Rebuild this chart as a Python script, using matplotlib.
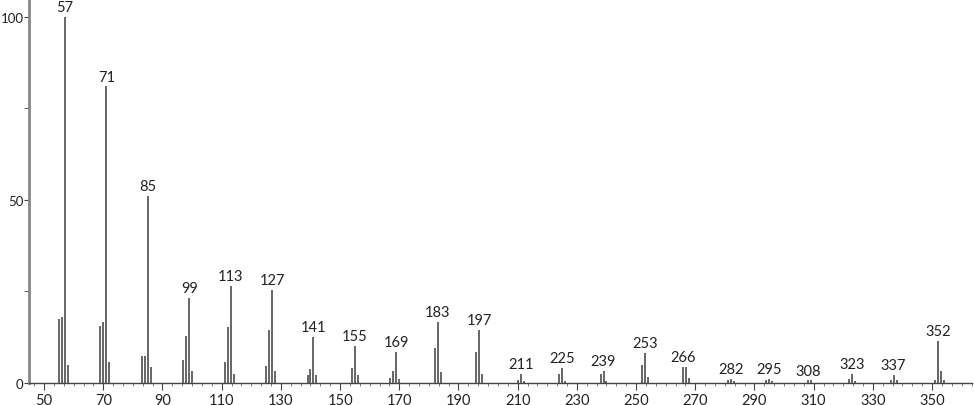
import matplotlib
matplotlib.use("Agg")
import matplotlib.pyplot as plt
from matplotlib.ticker import MultipleLocator

# m/z and relative intensity
mz = [55, 56, 57, 58,
      69, 70, 71, 72,
      83, 84, 85, 86,
      97, 98, 99, 100,
      111, 112, 113, 114,
      125, 126, 127, 128,
      139, 140, 141, 142,
      154, 155, 156,
      167, 168, 169, 170,
      182, 183, 184,
      196, 197, 198,
      210, 211, 212,
      224, 225, 226,
      238, 239, 240,
      252, 253, 254,
      266, 267, 268,
      281, 282, 283,
      294, 295, 296,
      308, 309,
      322, 323, 324,
      336, 337, 338,
      351, 352, 353, 354]
intensity = [17.5, 18.0, 100.0, 5.0,
             15.6, 16.7, 81.0, 5.8,
             7.5, 7.5, 51.0, 4.4,
             6.3, 12.8, 23.2, 3.3,
             5.7, 15.3, 26.5, 2.5,
             4.7, 14.5, 25.4, 3.3,
             2.2, 3.8, 12.6, 2.1,
             4.1, 10.1, 2.2,
             1.4, 3.2, 8.5, 1.1,
             9.6, 16.7, 3.0,
             8.5, 14.5, 2.4,
             0.8, 2.4, 0.6,
             2.5, 4.0, 0.6,
             2.5, 3.3, 0.6,
             4.9, 8.2, 1.6,
             4.4, 4.4, 1.4,
             0.7, 1.1, 0.5,
             0.7, 1.1, 0.5,
             0.7, 0.8,
             1.0, 2.4, 0.6,
             0.7, 2.3, 0.7,
             0.7, 11.5, 3.3, 0.8]
labeled = [57, 71, 85, 99, 113, 127, 141, 155, 169, 183, 197, 211,
           225, 239, 253, 266, 282, 295, 308, 323, 337, 352]

plt.rcParams['font.family'] = ['Lato', 'DejaVu Sans']

fig = plt.figure(figsize=(9.74, 4.06), dpi=100)
ax = fig.add_axes([29 / 974, 22 / 406, (972 - 29) / 974, 384 / 406])

ax.vlines(mz, 0, intensity, colors='#5a5a5a', linewidth=1.3)

peak = dict(zip(mz, intensity))
for m in labeled:
    h = max(peak.get(m, 0), peak.get(m + 1, 0) if m == 266 else 0)
    ax.text(m, h + 0.8, str(m), ha='center', va='bottom',
            fontsize=10.5, color='#222222')

ax.set_xlim(44.9, 363.5)
ax.set_ylim(0, 104.9)
ax.set_xticks(range(50, 351, 20))
ax.xaxis.set_minor_locator(MultipleLocator(20 / 6))
ax.set_yticks([0, 50, 100])
ax.yaxis.set_minor_locator(MultipleLocator(25))

for s in ['top', 'right']:
    ax.spines[s].set_visible(False)
ax.spines['left'].set_color('#888888')
ax.spines['left'].set_linewidth(2)
ax.spines['bottom'].set_color('#444444')
ax.spines['bottom'].set_linewidth(1)

ax.tick_params(axis='x', which='major', labelsize=10.5, labelcolor='#222222',
               color='#444444', length=5, width=0.8, pad=2)
ax.tick_params(axis='y', which='major', labelsize=9.5, labelcolor='#222222',
               color='#444444', length=3.5, width=0.8, pad=0.5)
ax.tick_params(axis='x', which='minor', length=2.5, width=0.6, color='#666666')
ax.tick_params(axis='y', which='minor', length=3.5, width=0.8, color='#666666')

fig.savefig('out.png', dpi=100)
